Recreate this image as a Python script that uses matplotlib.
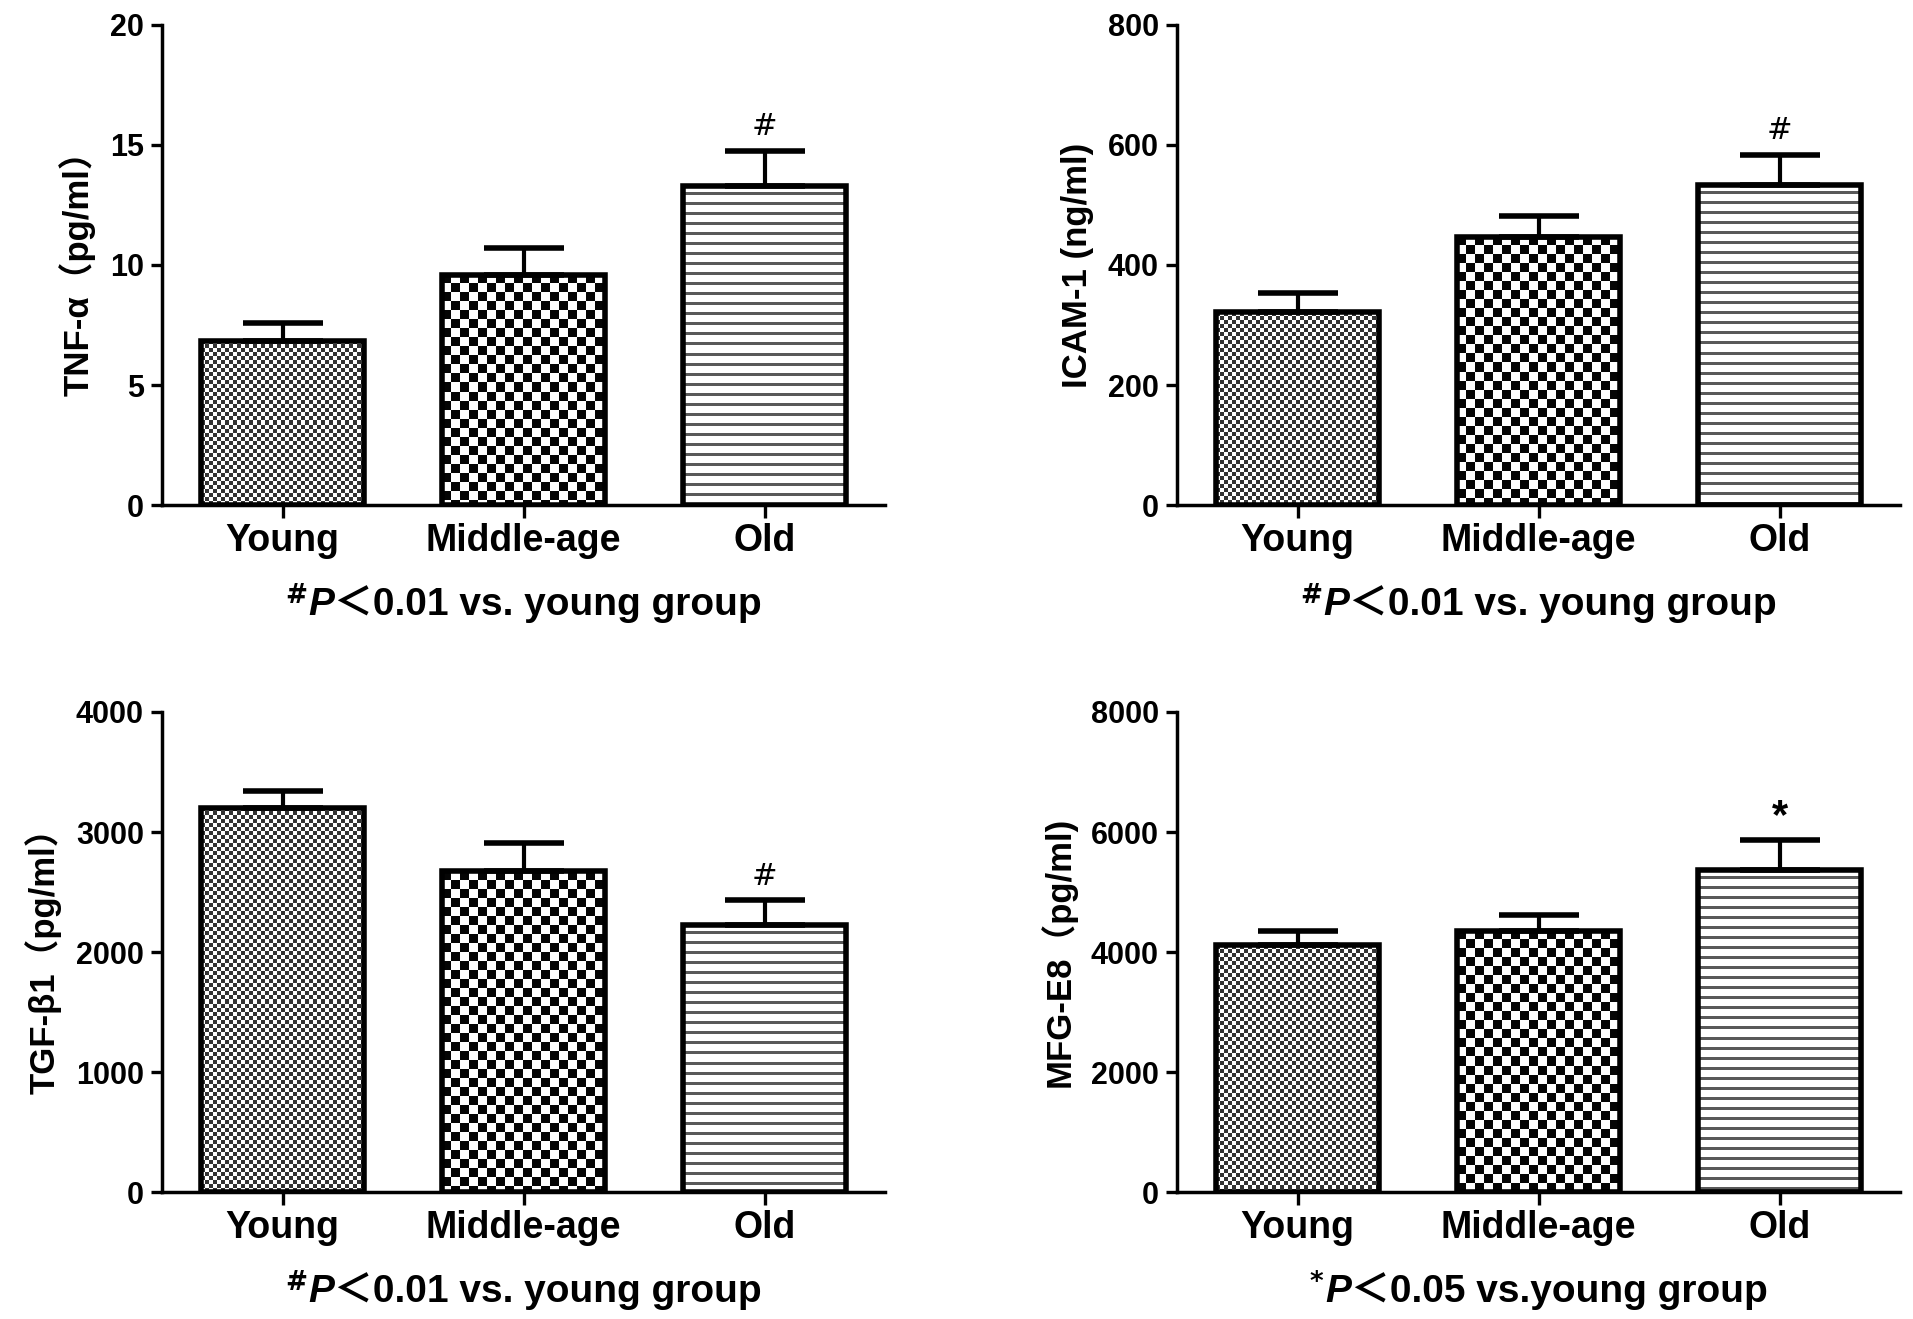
import numpy as np
import matplotlib
matplotlib.use('Agg')
import matplotlib.pyplot as plt
from matplotlib.offsetbox import TextArea, HPacker, AnnotationBbox

plt.rcParams['font.family'] = ['Liberation Sans', 'Noto Sans CJK SC', 'DejaVu Sans']
plt.rcParams['font.weight'] = 'bold'

groups = ['Young', 'Middle-age', 'Old']

tnf_mean = [6.85, 9.6, 13.3]
tnf_sem = [0.72, 1.1, 1.45]
icam_mean = [321, 447, 534]
icam_sem = [32, 34, 49]
tgf_mean = [3200, 2673, 2228]
tgf_sem = [142, 233, 202]
mfg_mean = [4111, 4354, 5367]
mfg_sem = [243, 264, 506]

tnf_ticks = [0, 5, 10, 15, 20]
icam_ticks = [0, 200, 400, 600, 800]
tgf_ticks = [0, 1000, 2000, 3000, 4000]
mfg_ticks = [0, 2000, 4000, 6000, 8000]

ylabels = ['TNF-α（pg/ml）', 'ICAM-1 (ng/ml)', 'TGF-β1（pg/ml）', 'MFG-E8（pg/ml)']
marks = [['', '', '#'], ['', '', '#'], ['', '', '#'], ['', '', '*']]
notes = [('#', '＜0.01 vs. young group'),
         ('#', '＜0.01 vs. young group'),
         ('#', '＜0.01 vs. young group'),
         ('*', '＜0.05 vs.young group')]

W, H = 1913, 1319
fig = plt.figure(figsize=(W / 100, H / 100), dpi=100)

# axes boxes in pixels: left, top, right, bottom
boxes = [(162, 25, 885, 505), (1177, 25, 1900, 505),
         (162, 712, 885, 1192), (1177, 712, 1900, 1192)]


def fill_bar(ax, bar, kind):
    # pattern image at pixel resolution, clipped to the bar
    x0, y0 = bar.get_x(), bar.get_y()
    x1, y1 = x0 + bar.get_width(), y0 + bar.get_height()
    (px0, py0), (px1, py1) = ax.transData.transform([(x0, y0), (x1, y1)])
    nx, ny = int(round(px1 - px0)), int(round(py1 - py0))
    ii, jj = np.indices((ny, nx))
    if kind == 'lines':
        img = np.where((ii % 10) >= 7, 0.35, 1.0)
    else:
        cell = 4 if kind == 'fine' else 9
        lo = 0.2 if kind == 'fine' else 0.02
        img = np.where(((ii // cell) + (jj // cell)) % 2 == 0, lo, 1.0)
    ax.imshow(img, extent=(x0, x1, y0, y1), cmap='gray', vmin=0, vmax=1,
              interpolation='nearest', aspect='auto', origin='upper',
              clip_path=bar, zorder=2)


panels = [(tnf_mean, tnf_sem, tnf_ticks), (icam_mean, icam_sem, icam_ticks),
          (tgf_mean, tgf_sem, tgf_ticks), (mfg_mean, mfg_sem, mfg_ticks)]

x = np.arange(len(groups))
for k, (means, sems, ticks) in enumerate(panels):
    l, t, r, b = boxes[k]
    ax = fig.add_axes([l / W, 1 - b / H, (r - l) / W, (b - t) / H])
    ax.set_xlim(-0.5, 2.5)
    ax.set_ylim(ticks[0], ticks[-1])

    bars = ax.bar(x, means, width=0.68, facecolor='none', edgecolor='black',
                  linewidth=4, zorder=3)
    for bar, kind in zip(bars, ['fine', 'coarse', 'lines']):
        fill_bar(ax, bar, kind)
    ax.errorbar(x, means, yerr=[np.zeros(len(sems)), sems], fmt='none',
                ecolor='black', elinewidth=3, capsize=29, capthick=4, zorder=2.5)
    ax.set_xlim(-0.5, 2.5)
    ax.set_ylim(ticks[0], ticks[-1])

    for xi, m, s, mk in zip(x, means, sems, marks[k]):
        if mk == '#':
            ax.annotate(mk, (xi, m + s), xytext=(0, 7), textcoords='offset points',
                        ha='center', va='bottom', fontsize=22, fontweight='normal',
                        family='DejaVu Sans')
        elif mk:
            ax.annotate(mk, (xi, m + s), xytext=(0, 2), textcoords='offset points',
                        ha='center', va='bottom', fontsize=30, fontweight='bold')

    ax.spines['top'].set_visible(False)
    ax.spines['right'].set_visible(False)
    ax.spines['left'].set_linewidth(2.5)
    ax.spines['bottom'].set_linewidth(2.5)
    ax.set_yticks(ticks)
    ax.set_xticks(x)
    ax.set_xticklabels(groups)
    ax.tick_params(axis='y', length=8, width=2.4, labelsize=22, pad=5)
    ax.tick_params(axis='x', length=9, width=2.4, labelsize=27, pad=4)
    ax.set_ylabel(ylabels[k], fontsize=25, fontweight='bold', labelpad=10)

    sym, rest = notes[k]
    parts = [TextArea(r'$^{\%s}$' % sym if sym == '#' else r'$^{%s}$' % sym,
                      textprops=dict(fontsize=27, fontweight='bold')),
             TextArea('P', textprops=dict(fontsize=28, fontstyle='italic', fontweight='bold')),
             TextArea(rest, textprops=dict(fontsize=28, fontweight='bold'))]
    box = HPacker(children=parts, align='baseline', pad=0, sep=0)
    ab = AnnotationBbox(box, (0.5, 0), xycoords='axes fraction', xybox=(0, -71),
                        boxcoords='offset points', box_alignment=(0.5, 0.5),
                        frameon=False)
    ax.add_artist(ab)

fig.savefig('out.png', dpi=100, facecolor='white')
